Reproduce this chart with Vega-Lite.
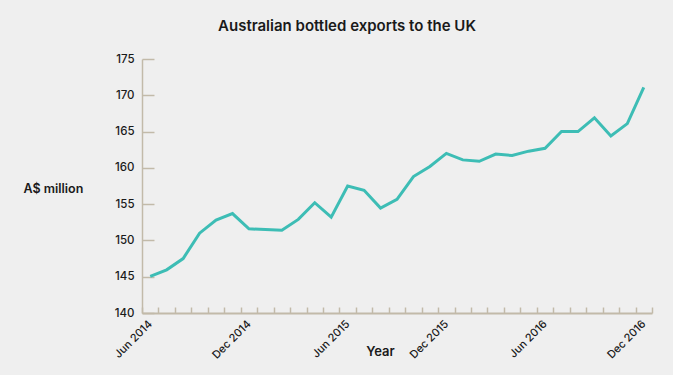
{
  "$schema": "https://vega.github.io/schema/vega-lite/v6.json",
  "width": 510,
  "height": 254,
  "autosize": "none",
  "padding": {"left": 142, "top": 59, "right": 21, "bottom": 62},
  "background": "#efefef",
  "title": {
    "text": "Australian bottled exports to the UK",
    "anchor": "middle",
    "frame": "group",
    "dx": -50,
    "offset": 7,
    "baseline": "alphabetic",
    "font": "Inter",
    "fontSize": 15,
    "fontWeight": 600,
    "color": "#1a1a1a"
  },
  "config": {
    "view": {"stroke": null},
    "font": "Inter"
  },
  "data": {
    "values": [
      {"date": "2014-06-01", "value": 145.05},
      {"date": "2014-07-01", "value": 145.95},
      {"date": "2014-08-01", "value": 147.5},
      {"date": "2014-09-01", "value": 151.0},
      {"date": "2014-10-01", "value": 152.8},
      {"date": "2014-11-01", "value": 153.7},
      {"date": "2014-12-01", "value": 151.6},
      {"date": "2015-01-01", "value": 151.5},
      {"date": "2015-02-01", "value": 151.4},
      {"date": "2015-03-01", "value": 152.9},
      {"date": "2015-04-01", "value": 155.2},
      {"date": "2015-05-01", "value": 153.2},
      {"date": "2015-06-01", "value": 157.5},
      {"date": "2015-07-01", "value": 156.9},
      {"date": "2015-08-01", "value": 154.45},
      {"date": "2015-09-01", "value": 155.65},
      {"date": "2015-10-01", "value": 158.8},
      {"date": "2015-11-01", "value": 160.2},
      {"date": "2015-12-01", "value": 162.0},
      {"date": "2016-01-01", "value": 161.1},
      {"date": "2016-02-01", "value": 160.9},
      {"date": "2016-03-01", "value": 161.9},
      {"date": "2016-04-01", "value": 161.7},
      {"date": "2016-05-01", "value": 162.3},
      {"date": "2016-06-01", "value": 162.7},
      {"date": "2016-07-01", "value": 165.0},
      {"date": "2016-08-01", "value": 165.0},
      {"date": "2016-09-01", "value": 166.9},
      {"date": "2016-10-01", "value": 164.4},
      {"date": "2016-11-01", "value": 166.1},
      {"date": "2016-12-01", "value": 171.1}
    ]
  },
  "mark": {"type": "line", "color": "#3dbdb5", "strokeWidth": 3, "strokeJoin": "miter"},
  "encoding": {
    "x": {
      "field": "date",
      "timeUnit": "yearmonth",
      "type": "ordinal",
      "scale": {"type": "band", "paddingInner": 0, "paddingOuter": 0},
      "axis": {
        "title": "Year",
        "titleX": 238,
        "titleY": 38,
        "titleBaseline": "middle",
        "titleAlign": "center",
        "titleFontSize": 13,
        "titleFontWeight": 600,
        "titleColor": "#1a1a1a",
        "labelExpr": "(month(datum.value) == 5 || month(datum.value) == 11) ? timeFormat(datum.value, '%b %Y') : ''",
        "labelAngle": -45,
        "labelAlign": "right",
        "labelBaseline": "middle",
        "labelPadding": 15,
        "labelFontSize": 11,
        "labelFontWeight": 500,
        "labelColor": "#1a1a1a",
        "tickBand": "extent",
        "tickSize": -6,
        "tickColor": "#c2baa9",
        "tickWidth": 1.5,
        "domainColor": "#c2baa9",
        "domainWidth": 2,
        "grid": false,
        "labelOverlap": false
      }
    },
    "y": {
      "field": "value",
      "type": "quantitative",
      "scale": {"domain": [140, 175], "nice": false, "zero": false},
      "axis": {
        "title": "A$ million",
        "titleAngle": 0,
        "titleX": -119,
        "titleY": 129,
        "titleAlign": "left",
        "titleBaseline": "middle",
        "titleFontSize": 12.5,
        "titleFontWeight": 600,
        "titleColor": "#1a1a1a",
        "values": [140, 145, 150, 155, 160, 165, 170, 175],
        "labelFontSize": 11.5,
        "labelFontWeight": 500,
        "labelColor": "#1a1a1a",
        "labelPadding": 20,
        "tickSize": -12,
        "tickColor": "#c2baa9",
        "tickWidth": 1.5,
        "domainColor": "#c2baa9",
        "domainWidth": 1.5,
        "grid": false
      }
    }
  }
}
